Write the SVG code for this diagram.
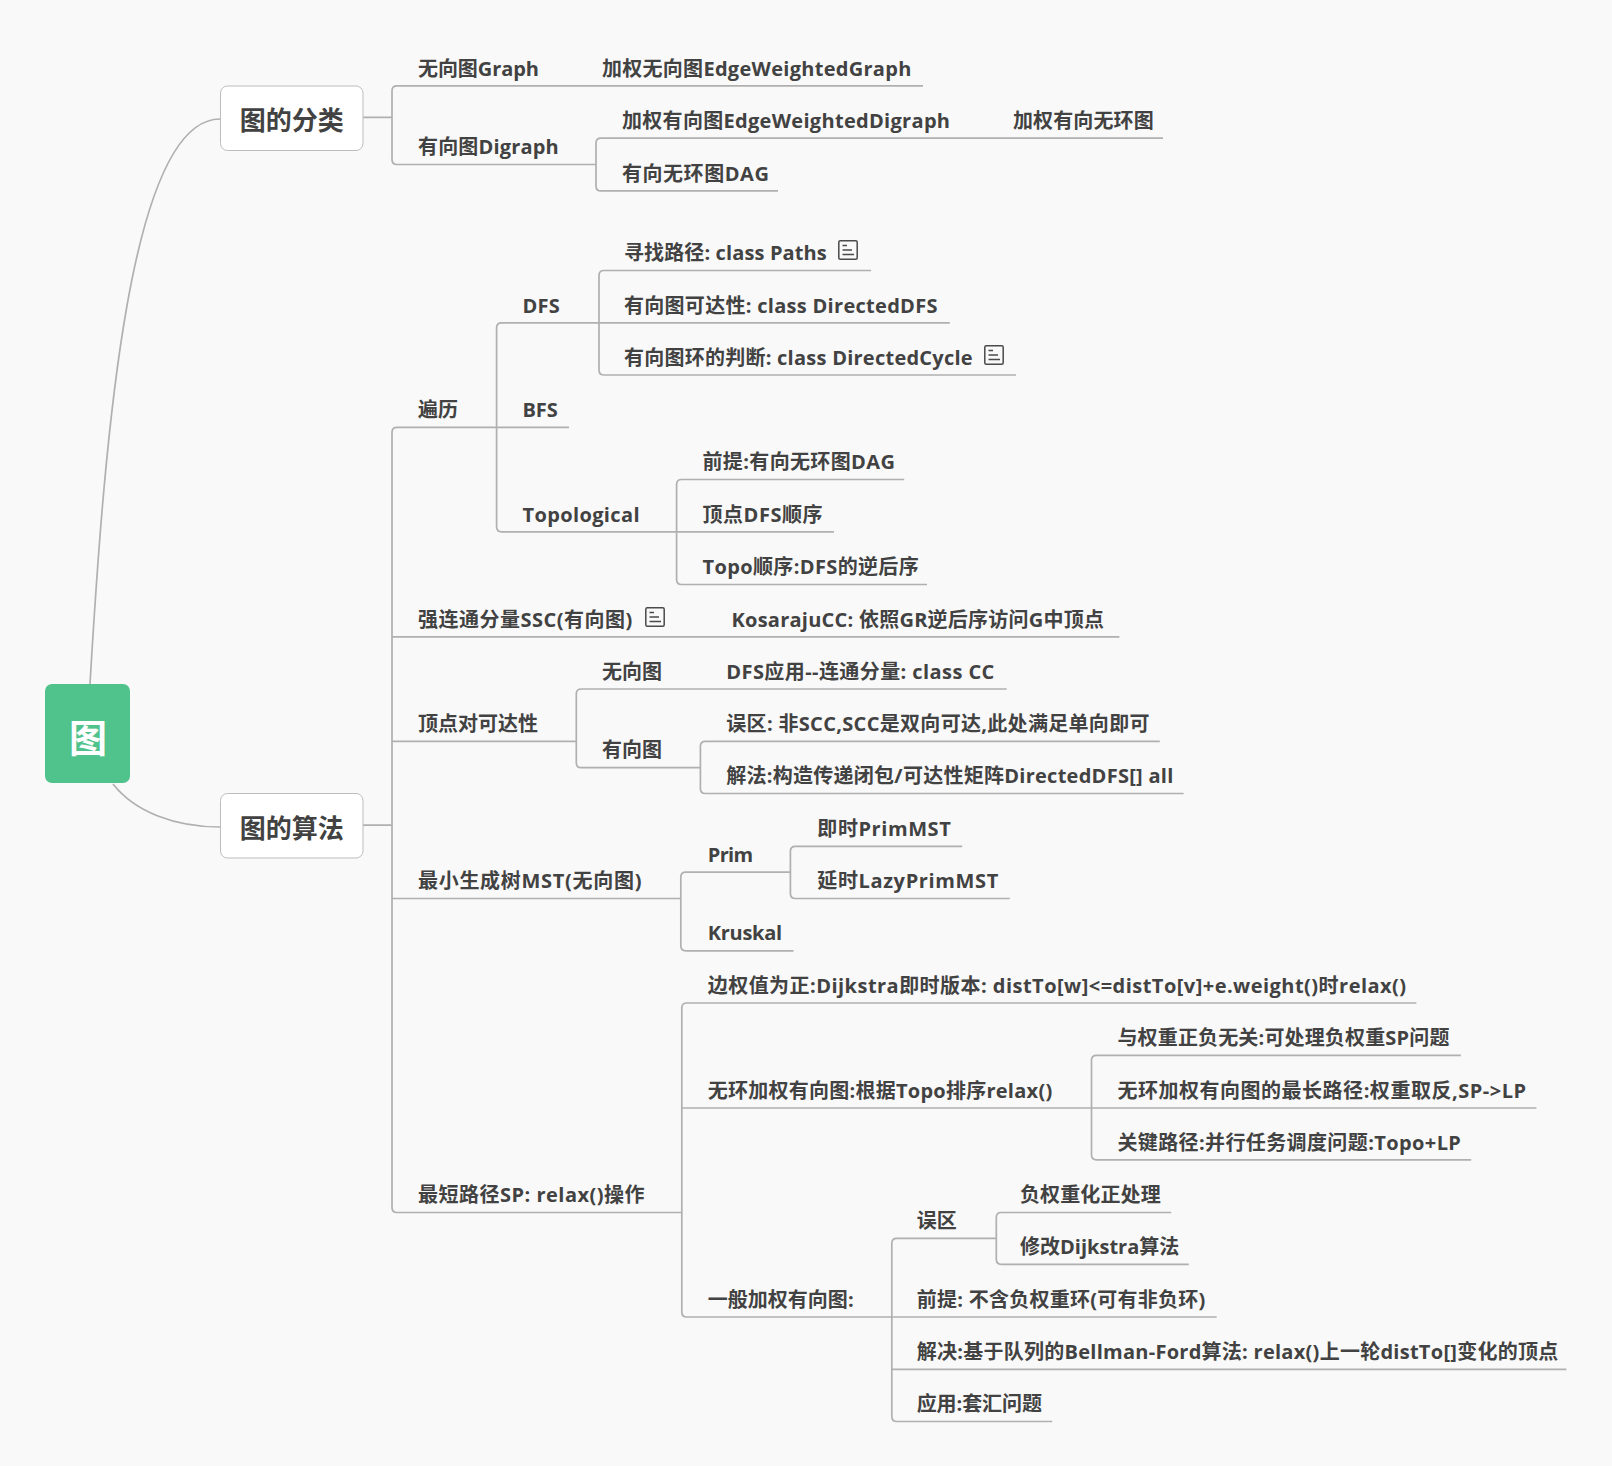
<svg xmlns="http://www.w3.org/2000/svg" width="1612" height="1466" viewBox="0 0 1612 1466">
<style>
text{font-family:"Open Sans","Noto Sans CJK SC",sans-serif;font-weight:700;fill:#424242}
.t{font-size:20px}
.m{font-size:26px;text-anchor:middle}
.c{fill:none;stroke:#b0b0b0;stroke-width:1.7}
.n{fill:#fff;stroke:#bdbdbd;stroke-width:1}
.i{fill:none;stroke:#4a4a4a;stroke-width:1.5}
</style>
<defs><g id="note"><rect class="i" x="0.8" y="0.8" width="18.4" height="18.4" rx="1.5"/><path class="i" d="M4.5 5.5h4.5M4.5 10h9.5M4.5 14.5h11.5"/></g></defs>
<rect width="1612" height="1466" fill="#f9f9f9"/>
<g id="connectors">
<path class="c" d="M90 684C105 430 130 119 220 119"/>
<path class="c" d="M113 784C135 812 175 827 220 827"/>
<path class="c" d="M363 117.4H392M923 85.9H397Q392 85.9 392 90.9V159.5Q392 164.5 397 164.5H596M778 190.9H601Q596 190.9 596 185.9V143.1Q596 138.1 601 138.1H1163"/>
<path class="c" d="M363 825.1H392M569 427.3H397Q392 427.3 392 432.3V1207.5Q392 1212.5 397 1212.5H682M392 636.8H1119.4M392 741.3H576.3M392 898.5H680.8"/>
<path class="c" d="M599 322.8H501.6Q496.6 322.8 496.6 327.8V526.8Q496.6 531.8 501.6 531.8H676.6"/>
<path class="c" d="M871.1 270.5H604Q599 270.5 599 275.5V370Q599 375 604 375H1016M599 322.8H949.8"/>
<path class="c" d="M904.2 479.5H681.6Q676.6 479.5 676.6 484.5V579.5Q676.6 584.5 681.6 584.5H927M676.6 531.8H833.9"/>
<path class="c" d="M1006.7 689H581.3Q576.3 689 576.3 694V762.7Q576.3 767.7 581.3 767.7H700.4"/>
<path class="c" d="M1159.8 741.3H705.4Q700.4 741.3 700.4 746.3V788.5Q700.4 793.5 705.4 793.5H1183.6"/>
<path class="c" d="M790.4 872.2H685.8Q680.8 872.2 680.8 877.2V945.8Q680.8 950.8 685.8 950.8H793.5"/>
<path class="c" d="M962.2 846.3H795.4Q790.4 846.3 790.4 851.3V893.5Q790.4 898.5 795.4 898.5H1009.8"/>
<path class="c" d="M1416.4 1003H686.8Q681.8 1003 681.8 1008V1312Q681.8 1317 686.8 1317H891.8M681.8 1108H1091.5"/>
<path class="c" d="M1460.9 1055.3H1096.5Q1091.5 1055.3 1091.5 1060.3V1154.8Q1091.5 1159.8 1096.5 1159.8H1471.2M1091.5 1108H1536.4"/>
<path class="c" d="M996.3 1238.4H896.8Q891.8 1238.4 891.8 1243.4V1416.5Q891.8 1421.5 896.8 1421.5H1052.2M891.8 1317H1216.7M891.8 1369.3H1566.4"/>
<path class="c" d="M1171.2 1212.5H1001.3Q996.3 1212.5 996.3 1217.5V1259.3Q996.3 1264.3 1001.3 1264.3H1188.8"/>
</g>
<g id="root"><rect x="45" y="684" width="85" height="99" rx="7" fill="#50c28b"/><text x="88" y="752" text-anchor="middle" font-size="38" style="fill:#fff">图</text></g>
<g id="n-classify"><rect class="n" x="220.5" y="86" width="142.5" height="64.5" rx="7"/><text class="m" x="291.7" y="130">图的分类</text></g>
<g id="n-algo"><rect class="n" x="220.5" y="793.5" width="142.5" height="64.5" rx="7"/><text class="m" x="291.7" y="837.5">图的算法</text></g>
<g id="n1"><text class="t" x="418" y="75.5" textLength="121">无向图Graph</text></g>
<g id="n2"><text class="t" x="602" y="75.5" textLength="309.3">加权无向图EdgeWeightedGraph</text></g>
<g id="n3"><text class="t" x="418" y="154" textLength="140.7">有向图Digraph</text></g>
<g id="n4"><text class="t" x="622" y="128" textLength="328">加权有向图EdgeWeightedDigraph</text></g>
<g id="n5"><text class="t" x="1013" y="128" textLength="140.7">加权有向无环图</text></g>
<g id="n6"><text class="t" x="622" y="180.5" textLength="146.9">有向无环图DAG</text></g>
<g id="n7"><text class="t" x="418" y="417">遍历</text></g>
<g id="n8"><text class="t" x="522.5" y="312.5" textLength="37.2">DFS</text></g>
<g id="n9"><text class="t" x="522.5" y="417" textLength="35.2">BFS</text></g>
<g id="n10"><text class="t" x="522.5" y="521.5" textLength="117">Topological</text></g>
<g id="n11"><text class="t" x="624" y="260" textLength="202.8">寻找路径: class Paths</text><use href="#note" x="838" y="240"/></g>
<g id="n12"><text class="t" x="624" y="312.5" textLength="313.5">有向图可达性: class DirectedDFS</text></g>
<g id="n13"><text class="t" x="624" y="364.5" textLength="348.7">有向图环的判断: class DirectedCycle</text><use href="#note" x="984" y="345"/></g>
<g id="n14"><text class="t" x="702.5" y="469" textLength="192.4">前提:有向无环图DAG</text></g>
<g id="n15"><text class="t" x="702.5" y="521.5" textLength="120">顶点DFS顺序</text></g>
<g id="n16"><text class="t" x="702.5" y="574" textLength="216.2">Topo顺序:DFS的逆后序</text></g>
<g id="n17"><text class="t" x="418" y="626.5" textLength="214.2">强连通分量SSC(有向图)</text><use href="#note" x="645" y="607"/></g>
<g id="n18"><text class="t" x="731.5" y="626.5" textLength="372.5">KosarajuCC: 依照GR逆后序访问G中顶点</text></g>
<g id="n19"><text class="t" x="418" y="731">顶点对可达性</text></g>
<g id="n20"><text class="t" x="602" y="678.5">无向图</text></g>
<g id="n21"><text class="t" x="726.3" y="678.5" textLength="268">DFS应用--连通分量: class CC</text></g>
<g id="n22"><text class="t" x="602" y="757">有向图</text></g>
<g id="n23"><text class="t" x="726.3" y="731" textLength="423.2">误区: 非SCC,SCC是双向可达,此处满足单向即可</text></g>
<g id="n24"><text class="t" x="726.3" y="783" textLength="447">解法:构造传递闭包/可达性矩阵DirectedDFS[] all</text></g>
<g id="n25"><text class="t" x="418" y="888" textLength="223.5">最小生成树MST(无向图)</text></g>
<g id="n26"><text class="t" x="707.7" y="861.5" textLength="45.5">Prim</text></g>
<g id="n27"><text class="t" x="707.7" y="940" textLength="74.5">Kruskal</text></g>
<g id="n28"><text class="t" x="817.3" y="836" textLength="133.5">即时PrimMST</text></g>
<g id="n29"><text class="t" x="817.3" y="888" textLength="181">延时LazyPrimMST</text></g>
<g id="n30"><text class="t" x="418" y="1202" textLength="226.6">最短路径SP: relax()操作</text></g>
<g id="n31"><text class="t" x="707.7" y="992.5" textLength="698.4">边权值为正:Dijkstra即时版本: distTo[w]&lt;=distTo[v]+e.weight()时relax()</text></g>
<g id="n32"><text class="t" x="707.7" y="1097.5" textLength="344.5">无环加权有向图:根据Topo排序relax()</text></g>
<g id="n33"><text class="t" x="707.7" y="1306.5" textLength="145.9">一般加权有向图:</text></g>
<g id="n34"><text class="t" x="1117.4" y="1045" textLength="332">与权重正负无关:可处理负权重SP问题</text></g>
<g id="n35"><text class="t" x="1117.4" y="1097.5" textLength="408.7">无环加权有向图的最长路径:权重取反,SP-&gt;LP</text></g>
<g id="n36"><text class="t" x="1117.4" y="1149.5" textLength="343.5">关键路径:并行任务调度问题:Topo+LP</text></g>
<g id="n37"><text class="t" x="916.7" y="1228">误区</text></g>
<g id="n38"><text class="t" x="1020" y="1202" textLength="140.7">负权重化正处理</text></g>
<g id="n39"><text class="t" x="1020" y="1254" textLength="159.3">修改Dijkstra算法</text></g>
<g id="n40"><text class="t" x="916.7" y="1306.5" textLength="288.7">前提: 不含负权重环(可有非负环)</text></g>
<g id="n41"><text class="t" x="916.7" y="1359" textLength="641.5">解决:基于队列的Bellman-Ford算法: relax()上一轮distTo[]变化的顶点</text></g>
<g id="n42"><text class="t" x="916.7" y="1411" textLength="125.2">应用:套汇问题</text></g>
</svg>
